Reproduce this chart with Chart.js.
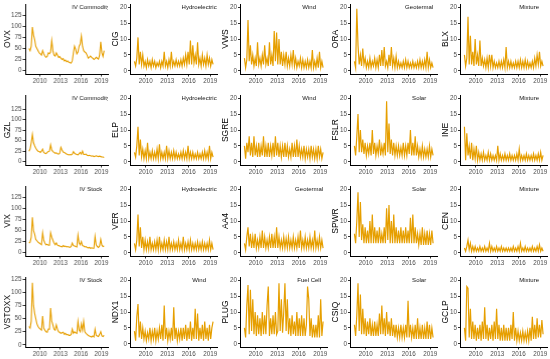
<!DOCTYPE html>
<html><head><meta charset="utf-8">
<script src="https://cdn.jsdelivr.net/npm/chart.js@4.4.1/dist/chart.umd.min.js"></script>
<style>
html,body{margin:0;padding:0;background:#fff;width:550px;height:359px;overflow:hidden;position:relative}
canvas{position:absolute}
</style></head><body>
<script>
// ---------- data (bimonthly from 2008.4 to 2019.4) ----------
const startYear = 2008.4, endYear = 2019.4;
const xTicks = [2010, 2013, 2016, 2019];
const ivTicks = [0, 25, 50, 75, 100, 125];
const smallTicks = [0, 5, 10, 15, 20];

const tickers = [
  ["OVX", "CIG", "VWS", "ORA", "BLX"],
  ["GZL", "ELP", "SGRE", "FSLR", "INE"],
  ["VIX", "VER", "AA4", "SPWR", "CEN"],
  ["VSTOXX", "NDX1", "PLUG", "CSIQ", "GCLP"]
];
const sectors = [
  ["IV Commodity", "Hydroelectric", "Wind", "Geotermal", "Mixture"],
  ["IV Commodity", "Hydroelectric", "Wind", "Solar", "Mixture"],
  ["IV Stock", "Hydroelectric", "Geotermal", "Solar", "Mixture"],
  ["IV Stock", "Wind", "Fuel Cell", "Solar", "Mixture"]
];

const OVX = [50,45,55,98,80,70, 55,50,45,40,38,35, 45,38,33,30,32,40, 38,42,68,45,35,33, 40,35,30,32,28,25,
  27,22,24,20,22,19, 18,17,22,40,55,48, 38,42,55,60,78,55, 45,42,40,35,28,30, 33,30,28,25,27,30, 28,26,35,65,40,32, 45];
const GZL = [25,30,45,65,45,38, 32,28,25,24,22,25, 30,22,20,19,22,24, 25,40,28,24,22,20, 21,19,18,20,34,28,
  23,22,20,18,17,16, 17,16,18,24,20,18, 17,16,19,22,18,25, 17,17,18,15,14,15, 14,13,14,12,13,14, 13,12,13,12,11,11, 10];
const VIX = [22,24,35,80,50,42, 30,27,24,22,20,18, 45,28,22,18,19,17, 17,45,35,28,22,18, 22,17,16,15,14,13,
  16,14,15,13,14,13, 12,14,22,16,15,14, 13,40,22,18,25,16, 15,13,14,12,11,12, 10,11,10,10,37,18, 14,12,15,30,17,14, 15];
const VSTOXX = [35,32,45,118,75,60, 50,40,35,32,30,28, 55,32,28,25,24,30, 30,70,45,38,30,28, 38,30,25,24,22,23,
  24,20,22,19,20,18, 18,20,30,22,25,23, 22,45,28,25,40,28, 45,25,22,20,18,17, 16,15,17,15,30,18, 17,16,20,25,17,16, 18];

const CIG = [3,1.5,4,10.5,2,6, 2,5,1.5,3,1,3.5, 1.5,3,1,3.5,1.5,3, 1,2.5,1.5,3,1,3, 1.5,6,1.5,3,1,3.5,
  1.5,6,1.5,3,1.5,3.5, 1.5,3,1.5,3.5,1.5,4, 2,5,2,6,2,9.5, 2,8,2.5,5,2,9, 2,4,1.5,5,2,4, 1.5,5,2,4,1.5,3.5, 2];
const VWS = [4,1,3.5,16,3,8, 2,5,1.5,4,1.5,9, 2,4,1.5,5,2,8, 2,4,1.5,9,2,5, 1.5,12.5,3,12,2,10,
  2,6,1.5,5,2,6, 1.5,4,1.5,5,2,6.5, 1.5,4,1,3,1.5,4, 1,3.5,1,3,1,3.5, 1,3,1,6.5,1,3, 1,4,1,6,1,3, 1];
const ORA = [3,1,19.5,8,2,5, 1.5,7,2,4,1,3, 1,4,1,3,1.5,4, 1,3.5,1,5,1.5,6.5, 1.5,7.5,1.5,3,1,5,
  1.5,7.5,1.5,4,1,4.5, 1,3,1,2.5,1,3, 1,3.5,1,3,1,2.5, 1,3,1,2.5,1,3, 1,3.5,1,3,1,3.5, 1,6,1,3.5,1,2.5, 1];
const BLX = [5,1.5,4,17,2,11, 2,6,1.5,10,2,5, 1.5,9.5,1.5,4,1.5,3.5, 1,4,1,5,1.5,5, 1,3,1,2.5,1,3,
  1,3,1,3.5,1,7.5, 1,3,1,3,1,2.5, 1,3,1,3,1,3.5, 1,3,1,3.5,1,3, 1,2.5,1,3,1,4, 1.5,5,2,6,1.5,3, 1.5];

const ELP = [3,1.5,5,11,2,7, 1.5,4,1,3.5,1,6, 1,3,1,3.5,1,3, 1,4,1,5.5,1,3, 1,3,1,5,1,3.5,
  1,3,1,3.5,1,3, 1,2.5,1,3,1,3.5, 1,3,1,5,1,3, 1,3,1,2.5,1,3, 1,2.5,1,3,1,3.5, 1,3,1,5,1,3, 1.5];
const SGRE = [5,1,6,3,8,2, 6,1.5,8,2,5,1.5, 6,1.5,5,2,8,1.5, 5,1.5,6,1.5,5,2, 6,1.5,8,2,6,1.5,
  5,1.5,5,1.5,6,1.5, 5,1.5,4,1.5,6,1.5, 5,1.5,7,1.5,5,1.5, 4,1.5,5,1,4,1.5, 4,1,5,1.5,4,1, 4,1,5,1.5,4,1, 3];
const FSLR = [5,2,8,15,3,10, 3,7,2.5,6,2,5, 2.5,6,2,10,2.5,6, 2,5,2.5,7,2,5, 2.5,6,2,19,3,12,
  2.5,7,2,6,2,5, 2,5,2,4.5,2,6, 2,5,2,6,2.5,10, 2,6,2,8,2,5, 1.5,4,1.5,5,1.5,4, 1.5,4,1.5,5,1.5,4, 2];
const INE = [11,0.5,9,2,5,1, 6,0.5,4,1,5,0.5, 3,0.5,2.5,0.5,3,0.5, 2,0.5,3,0.5,2.5,0.5, 2,0.5,2,0.5,5,0.5,
  2.5,0.5,2,0.5,2.5,0.5, 2,0.5,2.5,0.5,2,0.5, 2,0.5,2.5,0.5,4,0.5, 2,0.5,2,0.5,2.5,0.5, 2,0.5,2,0.5,2.5,0.5, 2,0.5,2.5,0.5,3,0.5, 2];

const VER = [3,1,4,12,2,8, 1.5,5,1,4,1,3.5, 1,5,1,3,1,3.5, 1,4,1,5,1,3, 1,4,1,3.5,1,5,
  1,3,1,3.5,1,3, 1,4,1,3,1,5, 1,3,1,3.5,1,4, 1,3,1,3,1,3.5, 1,3,1,3.5,1,3, 1,3,1,4,1,3, 1];
const AA4 = [3,1,5,8,2,6, 1.5,5,1.5,6,1.5,4, 1.5,5,1.5,7,1.5,5, 1.5,4,1.5,5,1.5,6, 1.5,5,1.5,8,1.5,5,
  1.5,4,1.5,5,1.5,4.5, 1.5,5,1.5,4,1.5,5, 1.5,4,1.5,5,1.5,7, 1.5,4,1.5,5,1.5,4, 1.5,5,1.5,4,1.5,7, 1.5,4,1.5,5,1.5,4, 1.5];
const SPWR = [6,3,10,19,5,16, 4,9,3,8,3,7, 3,10,3,12,3,8, 3,7,3,8,3,6, 3,8,3,14,4,15,
  3,10,3,12,3,8, 3,7,3,8,3,7, 3,8,3,7,3,11, 3,12,3,8,3,6, 2.5,6,2.5,8,2.5,6, 2.5,7,2.5,6,2.5,7, 3];
const CEN = [1.5,0.5,2,4,1,3, 0.5,2,0.5,2,0.5,1.5, 0.5,2,0.5,1.5,0.5,2, 0.5,1.5,0.5,3,0.5,2, 0.5,1.5,0.5,2,0.5,1.5,
  0.5,2,0.5,1.5,0.5,1.5, 0.5,1.5,0.5,1.5,0.5,2, 0.5,1.5,0.5,2,0.5,3, 0.5,1.5,0.5,2,0.5,1.5, 0.5,1.5,0.5,2,0.5,1.5, 0.5,2,0.5,2.5,0.5,1.5, 0.5];

const NDX1 = [4,1,8.5,12.5,2,7, 1.5,5,1.5,4,1,3.5, 1.5,5,1,4,1.5,5, 1,4,1.5,5,1.5,6, 1,12,1.5,5,1,4,
  1.5,5,1,11.5,1.5,5, 1,4,1.5,5,1,5, 1.5,6,1,5,1.5,7, 1,5,1.5,11,1.5,9.5, 1,5,1.5,6,1,7, 1.5,5,1,6,1.5,5, 7];
const PLUG = [5,2,12,18.5,3,17, 4,14,3,10,2.5,9, 3,8,2.5,10,3,9, 3,12,18,2.5,8,3, 9,3,10,3,4,19,
  4,14,3.5,10,19,4, 14,3,8,2.5,9,3, 7,2.5,10,2.5,8,2.5, 9,2.5,8,2.5,6,18, 14,2.5,8,2,6,2, 6,2,9,2,14,2.5, 7];
const CSIQ = [6,2.5,9,19,4,15.5, 3,11,3,8,2.5,7, 3,8,2.5,6,2.5,7, 2.5,6,2.5,9.5,3,12, 3,8,2.5,10,3,7,
  2.5,8,2.5,6,2,6, 2,5,2,6,2,5, 2,6,2,13.5,2,6, 2,5,1.5,6,1.5,8, 1.5,5,1.5,6,1.5,5, 1.5,7,1.5,6,1.5,5, 2];
const GCLP = [5,1,18,17.5,2,11, 1.5,7,1.5,6,1,5, 1.5,6,1,7,1.5,11.5, 1.5,6,1,5,1.5,6, 1,7,1.5,11,1.5,6,
  1,5,1,6,1,5, 1,5,1,6,1.5,10, 1,5,1,4,1,3.5, 1,4,1,3.5,1,4, 1,5,1,8.5,1.5,6, 1.5,8,2,6,2,7.5, 3];

const seriesByRow = [
  [OVX, CIG, VWS, ORA, BLX],
  [GZL, ELP, SGRE, FSLR, INE],
  [VIX, VER, AA4, SPWR, CEN],
  [VSTOXX, NDX1, PLUG, CSIQ, GCLP]
];

// ---------- layout (pixels) ----------
const rowTop = [4, 95, 186, 277];
const plotH = 70;
const plotLeft = [25, 130.5, 240.5, 350.5, 460.5];
const plotRight = [107.5, 217, 327, 437, 547];
const titleOffset = [17, 14.5, 14.5, 14.5, 14.5];
const ivRange = [[-7.5, 150], [-8, 159], [-7.4, 150.5], [-4, 129]];
const smallRange = [-1, 21];
const LINE = '#E69F00';
const FONT = '"Liberation Sans", Arial, sans-serif';
const PADT = 10, PADR = 14, XH = 14;

const annot = {
  id: 'annot',
  afterDraw(chart, args, o) {
    const {ctx, chartArea: a, scales: {x}} = chart;
    ctx.save();
    ctx.beginPath(); ctx.rect(a.left, a.top - 1, a.right - a.left, a.bottom - a.top + 1); ctx.clip();
    ctx.font = '6px ' + FONT; ctx.fillStyle = '#111';
    ctx.textAlign = 'center'; ctx.textBaseline = 'middle';
    ctx.fillText(o.label, x.getPixelForValue(2017.45), a.top + 3.5);
    ctx.restore();
    ctx.save();
    ctx.font = '8.5px ' + FONT; ctx.fillStyle = '#000';
    ctx.textAlign = 'center'; ctx.textBaseline = 'middle';
    ctx.translate(a.left - o.tOff, (a.top + a.bottom) / 2);
    ctx.rotate(-Math.PI / 2);
    ctx.fillText(o.name, 0, 0);
    ctx.restore();
  }
};

for (let r = 0; r < 4; r++) {
  for (let c = 0; c < 5; c++) {
    const vals = seriesByRow[r][c];
    const iv = c === 0;
    const n = vals.length;
    const pts = vals.map((v, i) => ({x: startYear + i * (endYear - startYear) / (n - 1), y: v}));
    const cellX = 110 * c;
    const yw = plotLeft[c] - cellX;
    const w = yw + (plotRight[c] - plotLeft[c]) + PADR;
    const h = PADT + plotH + XH;
    const cv = document.createElement('canvas');
    cv.width = w; cv.height = h;
    cv.style.left = cellX + 'px'; cv.style.top = (rowTop[r] - PADT) + 'px';
    cv.style.width = w + 'px'; cv.style.height = h + 'px';
    document.body.appendChild(cv);
    const yr = iv ? ivRange[r] : smallRange;
    const yt = iv ? ivTicks : smallTicks;
    new Chart(cv, {
      type: 'line',
      data: {datasets: [{data: pts, borderColor: LINE, borderWidth: iv ? 1.1 : 1.2,
        pointRadius: 0, tension: 0, fill: false}]},
      options: {
        responsive: false, animation: false, devicePixelRatio: 1,
        layout: {padding: {top: PADT, right: PADR, left: 0, bottom: 0}},
        plugins: {legend: {display: false}, tooltip: {enabled: false},
          annot: {label: sectors[r][c], name: tickers[r][c], tOff: titleOffset[c]}},
        scales: {
          x: {type: 'linear', min: 2007.85, max: 2019.95,
            afterBuildTicks: s => { s.ticks = xTicks.map(v => ({value: v})); },
            afterFit: s => { s.height = XH; },
            grid: {display: true, drawOnChartArea: false, drawTicks: true, tickLength: 2.5, color: '#333'},
            border: {display: true, color: '#000', width: 1},
            ticks: {padding: 0.5, maxRotation: 0, autoSkip: false, color: '#4D4D4D',
              font: {size: 6.3, family: FONT}, callback: v => String(v)}},
          y: {min: yr[0], max: yr[1],
            afterBuildTicks: s => { s.ticks = yt.map(v => ({value: v})); },
            afterFit: s => { s.width = yw; },
            grid: {display: true, drawOnChartArea: false, drawTicks: true, tickLength: 2.5, color: '#333'},
            border: {display: true, color: '#000', width: 1},
            ticks: {padding: 1, autoSkip: false, color: '#4D4D4D',
              font: {size: 6.3, family: FONT}, callback: v => String(v)}}
        }
      },
      plugins: [annot]
    });
  }
}
</script>
</body></html>
